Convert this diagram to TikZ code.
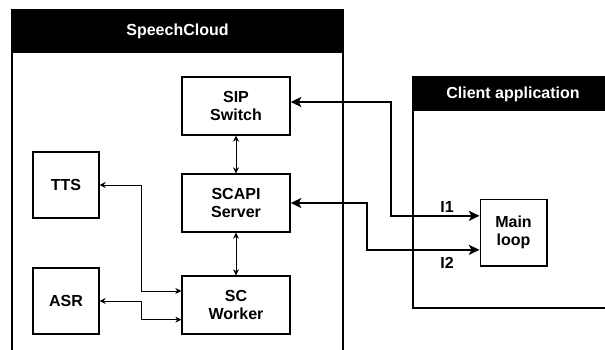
\documentclass[tikz,border=0pt]{standalone}
\usepackage{fontspec}
\setmainfont{Liberation Sans}
\usetikzlibrary{arrows,arrows.meta}
\tikzstyle{block} = [rectangle, draw, line width=1pt, align=center, inner sep=0pt, font=\bfseries\fontsize{12}{13.5}\selectfont, minimum width=81pt, minimum height=43.5pt]
\tikzstyle{smallblock} = [block, minimum width=49.5pt, minimum height=49.5pt]
\tikzstyle{header} = [text=white, font=\bfseries\fontsize{12}{13.5}\selectfont]
\tikzstyle{tag} = [font=\bfseries\fontsize{12}{13.5}\selectfont]
\tikzset{edge/.style = {
    line width=0.6pt,
    {Stealth[length=4.5pt, width=4.5pt]}-{Stealth[length=4.5pt, width=4.5pt]},
  }
}
\tikzset{bigedge/.style = {
    line width=1.5pt,
    {Stealth[length=8pt, width=7.5pt, inset=2pt]}-{Stealth[length=8pt, width=7.5pt, inset=2pt]},
  }
}
\begin{document}
\begin{tikzpicture}[x=0.75pt, y=-0.75pt]
              \useasboundingbox (0,0) rectangle (605,349);
              % containers
              \fill (12,10) rectangle (343,53);
              \draw[line width=2.2pt] (12,352) -- (12,10) -- (343,10) -- (343,352);
              \node[header] (cloud) at (177.5,31.5) {SpeechCloud};
              \fill (413,77) rectangle (610,111);
              \draw[line width=2.2pt] (610,308) -- (413,308) -- (413,77) -- (610,77);
              \node[header] (client) at (513,94) {Client application};

              % vertices
              \node[block] (sip) at (236,106) {SIP\\Switch};
              \node[block] (scapi) at (236,203) {SCAPI\\Server};
              \node[block] (worker) at (236,305) {SC\\Worker};
              \node[smallblock] (tts) at (66,185) {TTS};
              \node[smallblock] (asr) at (66,301) {ASR};
              \node[smallblock, minimum width=50pt, minimum height=50pt] (loop) at (513.5,232.5) {Main\\loop};
              \node[tag] (i1) at (447,207) {I1};
              \node[tag] (i2) at (447,263) {I2};

              % edges
              \draw[edge] (sip)   to (scapi);
              \draw[edge] (scapi) to (worker);
              \draw[edge] (tts.east) -- ++(42,0) |- ([yshift=10.5pt]worker.west);
              \draw[edge] (asr.east) -- ++(42,0) |- ([yshift=-11pt]worker.west);
              \draw[bigedge] ([yshift=3pt]sip.east) -- ++(100,0) |- ([yshift=12.5pt]loop.west);
              \draw[bigedge] (scapi.east) -- ++(76,0) |- ([yshift=-13pt]loop.west);
\end{tikzpicture}
\end{document}
